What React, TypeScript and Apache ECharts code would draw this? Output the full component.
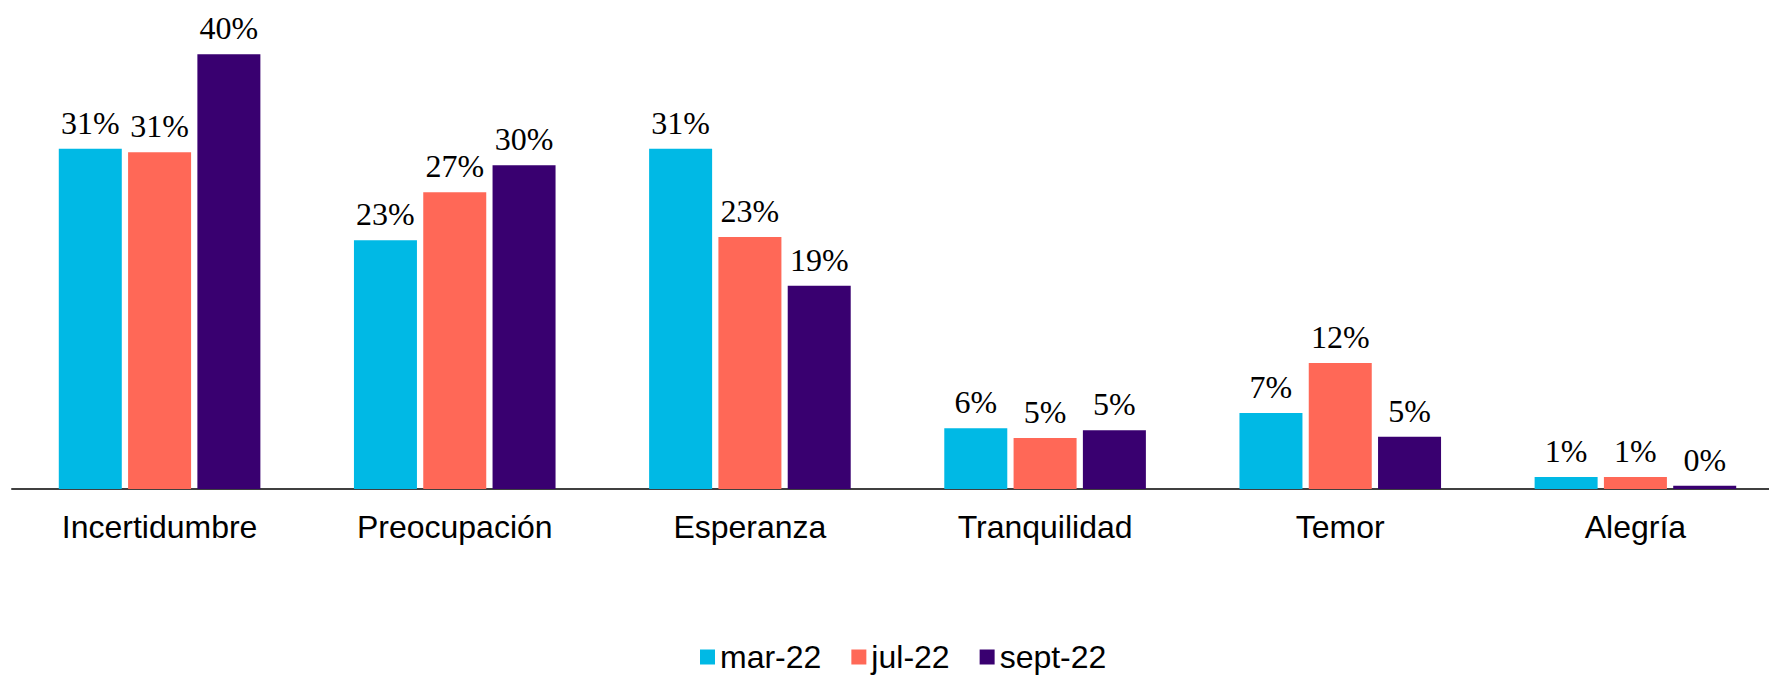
import React, { useEffect, useRef } from "react";
import * as echarts from "echarts";

const categories = ["Incertidumbre", "Preocupación", "Esperanza", "Tranquilidad", "Temor", "Alegría"];
const seriesNames = ["mar-22", "jul-22", "sept-22"];
const mar22 = [31.3, 22.9, 31.3, 5.6, 7.0, 1.1];
const jul22 = [31.0, 27.3, 23.2, 4.7, 11.6, 1.1];
const sept22 = [40.0, 29.8, 18.7, 5.4, 4.8, 0.3];
const colors = ["#00B9E5", "#FF6857", "#390070"];

export default function App() {
  const ref = useRef<HTMLDivElement>(null);
  useEffect(() => {
    document.body.style.margin = "0";
    document.body.style.overflow = "hidden";
    if (!ref.current) return;
    const chart = echarts.init(ref.current, null, { renderer: "svg" });
    const data = [mar22, jul22, sept22];
    chart.setOption({
      animation: false,
      backgroundColor: "#ffffff",
      grid: { left: 12, right: 0, top: 0, bottom: 186, containLabel: false },
      legend: {
        data: seriesNames,
        left: 700,
        top: 641,
        padding: 0,
        itemWidth: 15,
        itemHeight: 15,
        itemGap: 30,
        icon: "rect",
        textStyle: { fontFamily: "Liberation Sans", fontSize: 32, color: "#000" },
      },
      xAxis: {
        type: "category",
        data: categories,
        axisLine: { lineStyle: { color: "#404040", width: 2 } },
        axisTick: { show: false },
        axisLabel: { fontFamily: "Liberation Sans", fontSize: 32, color: "#000", margin: 22 },
      },
      yAxis: {
        type: "value",
        min: 0,
        max: 45,
        show: false,
        splitLine: { show: false },
      },
      series: seriesNames.map((name, i) => ({
        name,
        type: "bar",
        data: data[i],
        barWidth: 63,
        barGap: "10%",
        itemStyle: { color: colors[i] },
        label: {
          show: true,
          position: "top",
          distance: 10,
          fontFamily: "Liberation Serif",
          fontSize: 32,
          color: "#000",
          formatter: (p: any) => Math.round(p.value) + "%",
        },
      })),
    });
    return () => chart.dispose();
  }, []);
  return (
    <div style={{ width: 1769, height: 675, overflow: "hidden" }}>
      <div ref={ref} style={{ width: 1783, height: 675 }} />
    </div>
  );
}
